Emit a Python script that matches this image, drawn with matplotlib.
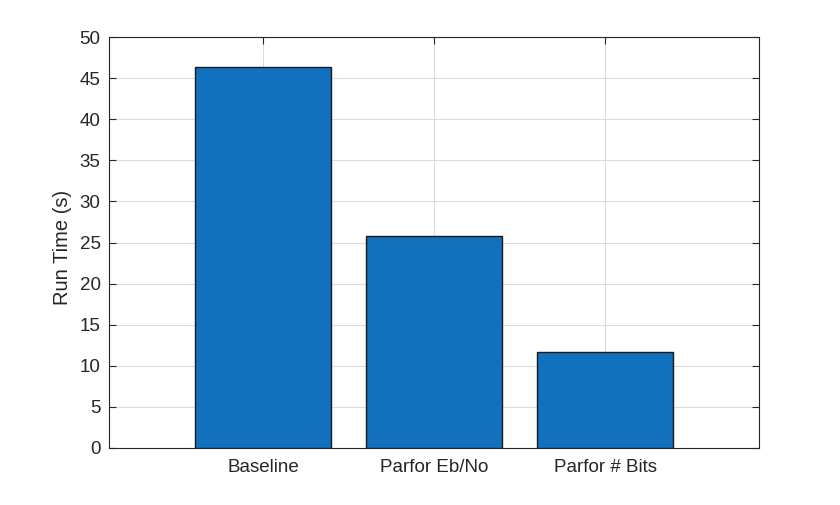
import matplotlib
matplotlib.use("Agg")
import matplotlib.pyplot as plt

categories = ["Baseline", "Parfor Eb/No", "Parfor # Bits"]
run_times = [46.3, 25.8, 11.7]
y_ticks = [0, 5, 10, 15, 20, 25, 30, 35, 40, 45, 50]

plt.rcParams['font.family'] = ['Liberation Sans', 'DejaVu Sans']
fig = plt.figure(figsize=(8.4, 5.05), dpi=100)
ax = fig.add_axes([0.1298, 0.1129, 0.7738, 0.8138])

x = list(range(1, len(categories) + 1))
ax.bar(x, run_times, width=0.8, color='#1271BE', edgecolor='#1a1a1a', linewidth=1.0, zorder=3)

ax.set_xlim(0.1, 3.9)
ax.set_ylim(0, 50)
ax.set_xticks(x)
ax.set_xticklabels(categories)
ax.set_yticks(y_ticks)
ax.set_ylabel("Run Time (s)", fontsize=14.5, color='#262626')
ax.yaxis.set_label_coords(-0.057, 0.487)
ax.grid(True, color='#dcdcdc', linewidth=0.8, zorder=0)
ax.set_axisbelow(True)
ax.tick_params(axis='both', direction='in', length=5, width=0.8, colors='#262626',
               labelsize=13.5, top=True, right=True)
ax.tick_params(axis='x', pad=8)
ax.tick_params(axis='y', pad=6)
for s in ax.spines.values():
    s.set_color('#262626')
    s.set_linewidth(0.8)

fig.savefig("out.png", dpi=100)
